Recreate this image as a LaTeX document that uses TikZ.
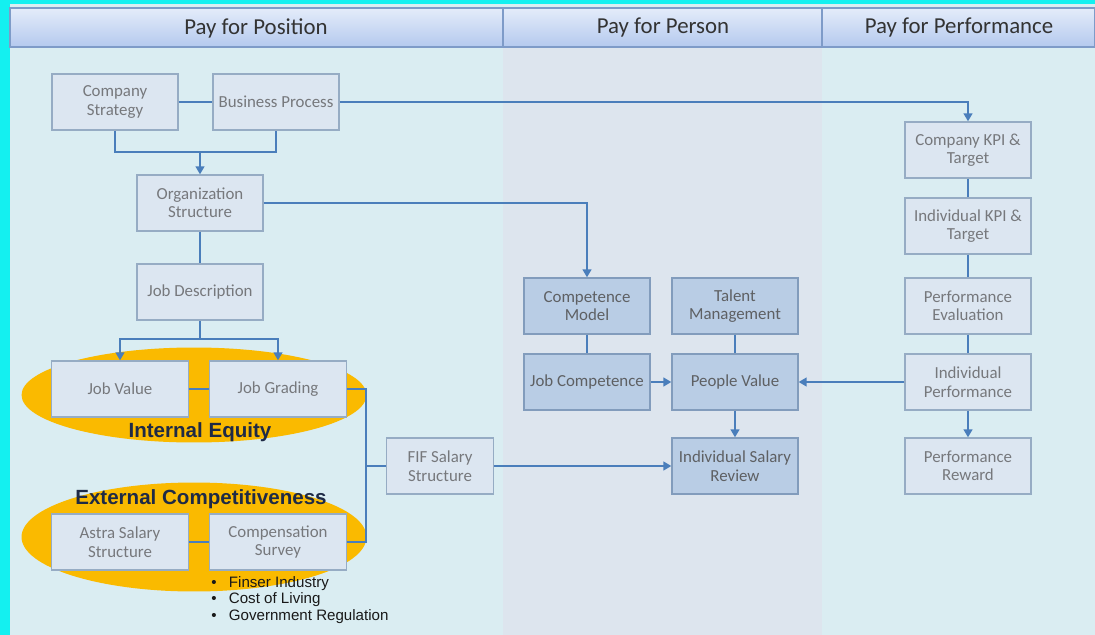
\documentclass[tikz,border=0pt]{standalone}
\usepackage{fontspec}
\setmainfont{Carlito}
\newfontfamily\arialfont{Liberation Sans}
\usetikzlibrary{arrows.meta}

\definecolor{frameCyan}{RGB}{20,240,240}
\definecolor{paneBlue}{RGB}{218,237,242}
\definecolor{paneGrey}{RGB}{221,229,238}
\definecolor{headTop}{RGB}{228,236,250}
\definecolor{headBot}{RGB}{180,201,238}
\definecolor{headLine}{RGB}{126,155,200}
\definecolor{boxFill}{RGB}{220,230,241}
\definecolor{boxLine}{RGB}{150,172,196}
\definecolor{darkFill}{RGB}{185,205,229}
\definecolor{darkLine}{RGB}{130,156,188}
\definecolor{flowLine}{RGB}{74,126,187}
\definecolor{equityGold}{RGB}{250,186,0}
\definecolor{equityText}{RGB}{30,42,70}
\definecolor{boxText}{RGB}{118,120,124}

\begin{document}
\begin{tikzpicture}[x=0.02cm,y=-0.02cm,
  every node/.style={inner sep=0pt},
  stage/.style={draw=boxLine,line width=0.8pt,fill=boxFill,text=boxText,
    minimum width=2.52cm,minimum height=1.12cm,align=center,
    font=\fontsize{9.6}{10.5}\selectfont},
  widestage/.style={stage,minimum width=2.74cm},
  person/.style={stage,draw=darkLine,fill=darkFill,text=boxText!80!black},
  link/.style={draw=flowLine,line width=1pt},
  feed/.style={link,-{Triangle[width=5pt,length=4.5pt]}},
  header/.style={font=\fontsize{13}{14}\selectfont,text=black!80}]
\useasboundingbox (0,0) rectangle (1095,635);

% frame, panes and column headers
\fill[frameCyan] (0,0) rectangle (1095,635);
\fill[paneBlue] (10,4) rectangle (1095,635);
\fill[paneGrey] (503,47) rectangle (822,635);
\shade[top color=headTop,bottom color=headBot] (10,8) rectangle (1095,47);
\draw[headLine,line width=0.8pt] (10,8) rectangle (1095,47);
\draw[headLine,line width=0.8pt] (503,8) -- (503,47) (822,8) -- (822,47);
\node[header] (h1) at (256,28) {Pay for Position};
\node[header] (h2) at (663,28) {Pay for Person};
\node[header] (h3) at (959,28) {Pay for Performance};

% equity ellipses
\fill[equityGold] (194,395) ellipse [x radius=3.45cm,y radius=0.95cm];
\fill[equityGold] (194,537) ellipse [x radius=3.45cm,y radius=1.09cm];
\node[font=\arialfont\bfseries\fontsize{11.7}{13}\selectfont,text=equityText]
  (ie) at (200,432) {Internal Equity};
\node[font=\arialfont\bfseries\fontsize{11.7}{13}\selectfont,text=equityText]
  (ec) at (201,499) {External Competitiveness};

% pay for position
\node[stage] (cs) at (115,102) {Company\\Strategy};
\node[stage] (bp) at (276,102) {Business Process};
\node[stage] (org) at (200,203) {Organization\\Structure};
\node[stage] (jd) at (200,292) {Job Description};
\node[widestage] (jv) at (120,389) {Job Value};
\node[widestage] (jg) at (278,389) {Job Grading};
\node[widestage] (as) at (120,542) {Astra Salary\\Structure};
\node[widestage] (csv) at (278,542) {Compensation\\Survey};
\node[stage,minimum width=2.14cm] (fif) at (440,466) {FIF Salary\\Structure};
\node[anchor=north west,align=left,font=\arialfont\fontsize{8.6}{9.5}\selectfont,text=black!90]
  (drv) at (211,576)
  {\textbullet\hspace{7pt}Finser Industry\\
   \textbullet\hspace{7pt}Cost of Living\\
   \textbullet\hspace{7pt}Government Regulation};

% pay for person
\node[person] (cm) at (587,306) {Competence\\Model};
\node[person] (tm) at (735,306) {Talent\\Management};
\node[person] (jc) at (587,382) {Job Competence};
\node[person] (pv) at (735,382) {People Value};
\node[person] (isr) at (735,466) {Individual Salary\\Review};

% pay for performance
\node[stage] (ckpi) at (968,150) {Company KPI \&\\Target};
\node[stage] (ikpi) at (968,226) {Individual KPI \&\\Target};
\node[stage] (pe) at (968,306) {Performance\\Evaluation};
\node[stage] (ip) at (968,382) {Individual\\Performance};
\node[stage] (pr) at (968,466) {Performance\\Reward};

% connectors
\coordinate (topsplit) at (200,152);
\coordinate (jdsplit) at (200,339);
\coordinate (brace) at (366,466);
\draw[link] (cs) -- (bp);
\draw[feed] (bp.east) -| (ckpi.north);
\draw[link] (cs.south) |- (topsplit) -| (bp.south);
\draw[feed] (topsplit) -- (org.north);
\draw[feed] (org.east) -| (cm.north);
\draw[link] (org) -- (jd);
\draw[link] (jd.south) -- (jdsplit);
\draw[feed] (jdsplit) -| (jv.north);
\draw[feed] (jdsplit) -| (jg.north);
\draw[link] (jv) -- (jg);
\draw[link] (as) -- (csv);
\draw[link] (jg.east) -| (brace) |- (csv.east);
\draw[link] (brace) -- (fif.west);
\draw[feed] (fif) -- (isr);
\draw[link] (cm) -- (jc);
\draw[link] (tm) -- (pv);
\draw[feed] (jc) -- (pv);
\draw[feed] (pv) -- (isr);
\draw[feed] (ip) -- (pv);
\draw[link] (ckpi) -- (ikpi);
\draw[link] (ikpi) -- (pe);
\draw[link] (pe) -- (ip);
\draw[feed] (ip) -- (pr);
\end{tikzpicture}
\end{document}
